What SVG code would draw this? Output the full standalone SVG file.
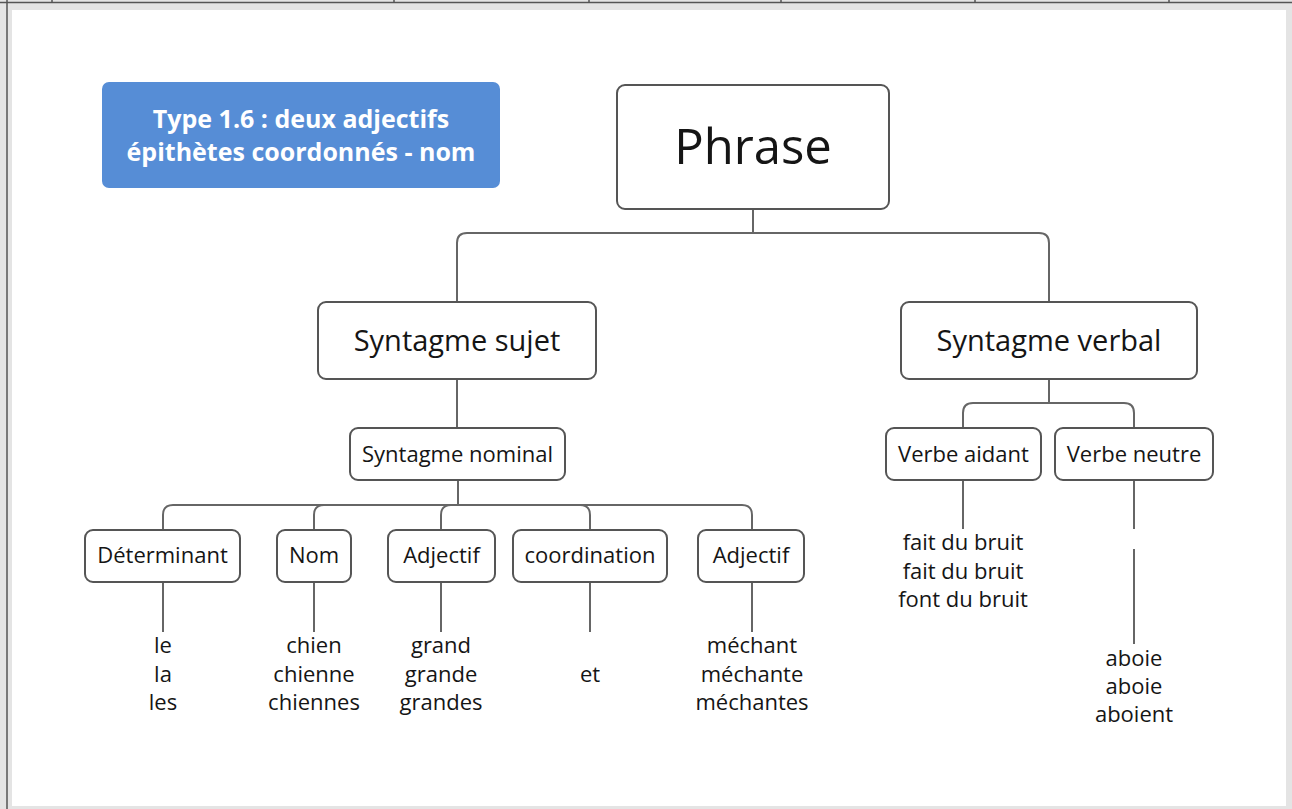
<svg xmlns="http://www.w3.org/2000/svg" width="1292" height="809" viewBox="0 0 1292 809">
<style>
.box{fill:#ffffff;stroke:#555555;stroke-width:2}
.con{fill:none;stroke:#666666;stroke-width:2}
text{font-family:"Open Sans","Noto Sans","DejaVu Sans",sans-serif;fill:#151515;text-anchor:middle}
.big{font-size:49px}
.mid{font-size:29px}
.sm{font-size:22px}
.title{font-size:25px;font-weight:bold;fill:#ffffff}
</style>
<rect x="0" y="0" width="1292" height="809" fill="#e4e4e4"/>
<rect x="12" y="10" width="1274" height="796" fill="#ffffff"/>
<g id="frame" stroke="#555555" stroke-width="1.5" fill="none">
<line x1="0" y1="2.5" x2="1292" y2="2.5"/>
<line x1="7" y1="0" x2="7" y2="809"/>
<line x1="52" y1="0" x2="52" y2="3"/>
<line x1="394" y1="0" x2="394" y2="3"/>
<line x1="589" y1="0" x2="589" y2="3"/>
<line x1="781" y1="0" x2="781" y2="3"/>
<line x1="975" y1="0" x2="975" y2="3"/>
<line x1="1169" y1="0" x2="1169" y2="3"/>
</g>
<g id="connectors" class="con">
<path class="con" d="M753,209 V233 H467 Q457,233 457,243 V302"/>
<path class="con" d="M753,209 V233 H1039 Q1049,233 1049,243 V302"/>
<path class="con" d="M457,379 V428"/>
<path class="con" d="M458,480 V505 H173 Q163,505 163,515 V530"/>
<path class="con" d="M458,480 V505 H324 Q314,505 314,515 V530"/>
<path class="con" d="M458,480 V505 H451 Q441,505 441,515 V530"/>
<path class="con" d="M458,480 V505 H580 Q590,505 590,515 V530"/>
<path class="con" d="M458,480 V505 H742 Q752,505 752,515 V530"/>
<path class="con" d="M1049,379 V403 H973 Q963,403 963,413 V428"/>
<path class="con" d="M1049,379 V403 H1124 Q1134,403 1134,413 V428"/>
<path class="con" d="M163,582 V632"/>
<path class="con" d="M314,582 V632"/>
<path class="con" d="M441,582 V632"/>
<path class="con" d="M590,582 V632"/>
<path class="con" d="M752,582 V632"/>
<path class="con" d="M963,480 V529"/>
<path class="con" d="M1134,480 V529"/>
<path class="con" d="M1134,549 V644"/>
</g>
<g id="title">
<rect x="102" y="82" width="398" height="106" rx="7" fill="#568dd6"/>
<text class="title" x="301" y="128">Type 1.6 : deux adjectifs</text>
<text class="title" x="301" y="161">épithètes coordonnés - nom</text>
</g>
<g id="phrase">
<rect class="box" x="617" y="85" width="272" height="124" rx="8"/>
<text class="big" x="753" y="164">Phrase</text>
</g>
<g id="syntagme-sujet">
<rect class="box" x="318" y="302" width="278" height="77" rx="8"/>
<text class="mid" x="457" y="351">Syntagme sujet</text>
</g>
<g id="syntagme-verbal">
<rect class="box" x="901" y="302" width="296" height="77" rx="8"/>
<text class="mid" x="1049" y="351">Syntagme verbal</text>
</g>
<g id="syntagme-nominal">
<rect class="box" x="350" y="428" width="215" height="52" rx="8"/>
<text class="sm" x="457.5" y="462">Syntagme nominal</text>
</g>
<g id="verbe-aidant">
<rect class="box" x="886" y="428" width="155" height="52" rx="8"/>
<text class="sm" x="963.5" y="462">Verbe aidant</text>
</g>
<g id="verbe-neutre">
<rect class="box" x="1055" y="428" width="158" height="52" rx="8"/>
<text class="sm" x="1134" y="462">Verbe neutre</text>
</g>
<g id="determinant">
<rect class="box" x="85" y="530" width="155" height="52" rx="8"/>
<text class="sm" x="162.5" y="563">Déterminant</text>
</g>
<g id="nom">
<rect class="box" x="277" y="530" width="74" height="52" rx="8"/>
<text class="sm" x="314" y="563">Nom</text>
</g>
<g id="adjectif-1">
<rect class="box" x="388" y="530" width="107" height="52" rx="8"/>
<text class="sm" x="441.5" y="563">Adjectif</text>
</g>
<g id="coordination">
<rect class="box" x="513" y="530" width="154" height="52" rx="8"/>
<text class="sm" x="590" y="563">coordination</text>
</g>
<g id="adjectif-2">
<rect class="box" x="698" y="530" width="106" height="52" rx="8"/>
<text class="sm" x="751" y="563">Adjectif</text>
</g>
<g id="leaf-determinant" class="sm">
<text class="sm" x="163" y="653">le</text>
<text class="sm" x="163" y="682">la</text>
<text class="sm" x="163" y="710">les</text>
</g>
<g id="leaf-nom">
<text class="sm" x="314" y="653">chien</text>
<text class="sm" x="314" y="682">chienne</text>
<text class="sm" x="314" y="710">chiennes</text>
</g>
<g id="leaf-adjectif-1">
<text class="sm" x="441" y="653">grand</text>
<text class="sm" x="441" y="682">grande</text>
<text class="sm" x="441" y="710">grandes</text>
</g>
<g id="leaf-coordination">
<text class="sm" x="590" y="682">et</text>
</g>
<g id="leaf-adjectif-2">
<text class="sm" x="752" y="653">méchant</text>
<text class="sm" x="752" y="682">méchante</text>
<text class="sm" x="752" y="710">méchantes</text>
</g>
<g id="leaf-verbe-aidant">
<text class="sm" x="963" y="550">fait du bruit</text>
<text class="sm" x="963" y="579">fait du bruit</text>
<text class="sm" x="963" y="607">font du bruit</text>
</g>
<g id="leaf-verbe-neutre">
<text class="sm" x="1134" y="666">aboie</text>
<text class="sm" x="1134" y="694">aboie</text>
<text class="sm" x="1134" y="722">aboient</text>
</g>
</svg>
